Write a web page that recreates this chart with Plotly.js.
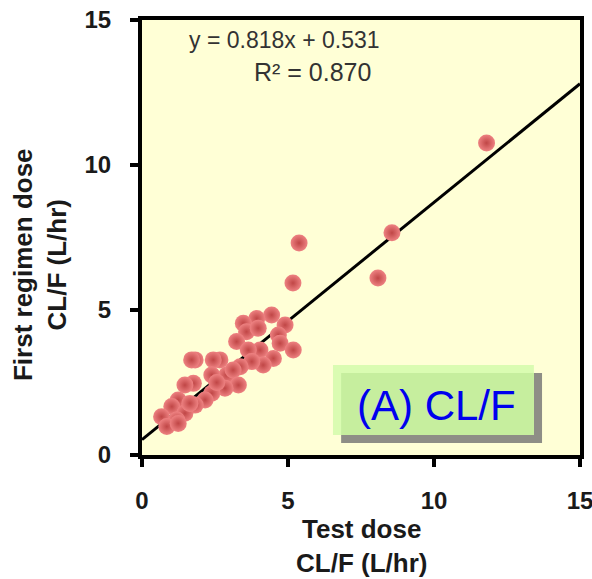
<!DOCTYPE html>
<html>
<head>
<meta charset="utf-8">
<script src="https://cdn.plot.ly/plotly-3.0.1.min.js"></script>
<style>html,body{margin:0;padding:0;background:#fff;}#chart{width:592px;height:579px;}</style>
</head>
<body>
<div id="chart"></div>
<script>
// Data
const testDoseCL = [11.8, 8.56, 8.08, 5.38, 5.17,
  4.44, 3.93, 3.47, 3.58, 3.98, 4.90, 3.24, 4.67, 4.73, 5.18, 4.04, 3.64, 4.50, 4.15, 3.76,
  3.36, 2.90, 3.12, 2.67, 2.44, 1.82, 1.70, 2.39, 3.30, 2.84, 1.76, 1.47, 2.39, 2.16, 1.82,
  1.24, 1.02, 1.47, 0.67, 1.19, 0.85, 1.24, 1.64, 2.56];
const firstRegimenCL = [10.76, 7.66, 6.10, 7.31, 5.93,
  4.83, 4.71, 4.54, 4.25, 4.37, 4.48, 3.91, 4.14, 3.85, 3.62, 3.62, 3.62, 3.33, 3.10, 3.22,
  3.04, 2.76, 2.93, 3.28, 3.28, 3.28, 3.28, 2.76, 2.41, 2.30, 2.47, 2.41, 2.13, 1.90, 1.72,
  1.90, 1.67, 1.44, 1.32, 1.21, 0.98, 1.09, 1.78, 2.50];
const slope = 0.818;
const intercept = 0.531;
const rSquared = 0.870;
const axisRange = [0, 15];
const tickVals = [0, 5, 10, 15];
const panelLabel = "(A) CL/F";

const fitX = [axisRange[0], axisRange[1]];
const fitY = fitX.map(v => slope * v + intercept);

const font = "Liberation Sans, Arial, sans-serif";

const traces = [
  {
    x: fitX, y: fitY, mode: 'lines', type: 'scatter',
    line: {color: '#000', width: 3}, hoverinfo: 'skip', showlegend: false
  },
  {
    x: testDoseCL, y: firstRegimenCL, mode: 'markers', type: 'scatter',
    marker: {size: 17, color: '#EE8282', line: {width: 0},
      gradient: {type: 'radial', color: '#C04646'}},
    showlegend: false
  }
];

const axisCommon = {
  range: axisRange, tickvals: tickVals, ticktext: tickVals.map(String),
  showgrid: false, zeroline: false, showline: true, linecolor: '#000', linewidth: 4,
  mirror: true, ticks: 'outside', ticklen: 8, tickwidth: 4, tickcolor: '#000',
  tickfont: {family: font, size: 24, color: '#1a1a1a', weight: 'bold'},
  ticklabeloverflow: 'allow',
  fixedrange: true
};

const layout = {
  width: 592, height: 579,
  margin: {l: 142, r: 12, t: 20, b: 124},
  paper_bgcolor: '#fff', plot_bgcolor: '#FFFFD6',
  xaxis: Object.assign({}, axisCommon, {ticklabelstandoff: 13}),
  yaxis: Object.assign({}, axisCommon, {ticklabelstandoff: 14}),
  shapes: [
    {type: 'rect', xref: 'x', yref: 'y', x0: 6.82, x1: 13.70, y0: 0.41, y1: 2.83,
      fillcolor: '#8E8E86', line: {width: 0}},
    {type: 'rect', xref: 'x', yref: 'y', x0: 6.54, x1: 13.42, y0: 0.69, y1: 3.10,
      fillcolor: '#DAFCB2', line: {width: 0}},
    {type: 'rect', xref: 'x', yref: 'y', x0: 6.82, x1: 13.42, y0: 0.69, y1: 2.83,
      fillcolor: '#C6EE9E', line: {width: 0}}
  ],
  annotations: [
    {xref: 'x', yref: 'y', x: 8.22, y: 14.31, xanchor: 'right', yanchor: 'middle',
      text: 'y = ' + slope.toFixed(3) + 'x + ' + intercept.toFixed(3), showarrow: false,
      font: {family: font, size: 23, color: '#333'}},
    {xref: 'x', yref: 'y', x: 5.85, y: 13.21, xanchor: 'center', yanchor: 'middle',
      text: 'R² = ' + rSquared.toFixed(3), showarrow: false,
      font: {family: font, size: 25, color: '#333'}},
    {xref: 'x', yref: 'y', x: 10.1, y: 1.72, xanchor: 'center', yanchor: 'middle',
      text: panelLabel, showarrow: false,
      font: {family: font, size: 42, color: '#0000EE'}},
    {xref: 'paper', yref: 'y', x: 0, y: 6.55, xshift: -102, xanchor: 'center', yanchor: 'middle',
      textangle: -90, text: 'First regimen dose<br>CL/F (L/hr)', showarrow: false,
      font: {family: font, size: 26, color: '#1a1a1a', weight: 'bold'}},
    {xref: 'x', yref: 'paper', x: 7.5, y: 0, yshift: -91, xanchor: 'center', yanchor: 'middle',
      text: 'Test dose<br>CL/F (L/hr)', showarrow: false,
      font: {family: font, size: 26, color: '#1a1a1a', weight: 'bold'}}
  ]
};

Plotly.newPlot('chart', traces, layout, {displayModeBar: false, staticPlot: true});
</script>
</body>
</html>
